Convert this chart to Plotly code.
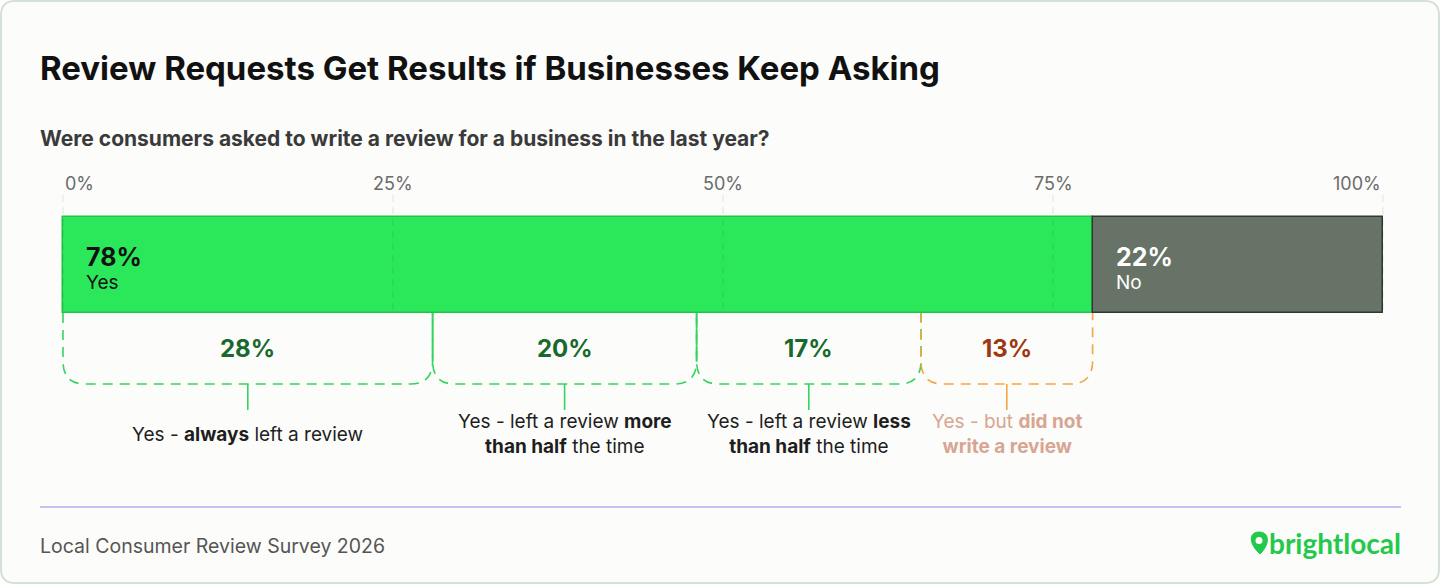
import plotly.graph_objects as go

# ---------------- data ----------------
categories = ["Yes", "No"]
shares = [78, 22]
breakdown_values = [28, 20, 17, 13]
breakdown_labels = [
    "Yes - <b>always</b> left a review",
    "Yes - left a review <b>more</b><br><b>than half</b> the time",
    "Yes - left a review <b>less</b><br><b>than half</b> the time",
    "Yes - but <b>did not</b><br><b>write a review</b>",
]
tick_values = [0, 25, 50, 75, 100]
tick_labels = ["0%", "25%", "50%", "75%", "100%"]

title = "Review Requests Get Results if Businesses Keep Asking"
subtitle = "Were consumers asked to write a review for a business in the last year?"
source = "Local Consumer Review Survey 2026"
brand = "brightlocal"

# ---------------- style ----------------
W, H = 1440, 584
X0_PX, X100_PX = 63, 1383
PPU = (X100_PX - X0_PX) / 100.0


def ux(px):
    return (px - X0_PX) / PPU


FONT = "Inter"
bar_colors = ["#2be85b", "#667366"]
bar_line_colors = ["#20c44b", "#2e3a30"]
bar_text_colors = ["#111111", "#ffffff"]
bracket_colors = ["#35d461", "#35d461", "#35d461", "#f5a640"]
pct_colors = ["#17692d", "#17692d", "#17692d", "#9c3812"]
label_colors = ["#1e1e1e", "#1e1e1e", "#1e1e1e", "#d8a592"]
GREEN_BRAND = "#22c94b"

BAR_Y, BAR_H = 265, 96
BAR_BOTTOM = BAR_Y + BAR_H / 2
GRID_TOP = 195
BRK_CORNER_Y, BRK_Y, STEM_Y = 361, 384, 410
R_PX = 22

fig = go.Figure()

# bars
base = 0
for cat, val, col, lc in zip(categories, shares, bar_colors, bar_line_colors):
    fig.add_trace(go.Bar(
        y=[BAR_Y], x=[val], base=[base], orientation="h", width=BAR_H,
        marker=dict(color=col, line=dict(color=lc, width=1.5)),
        hoverinfo="skip", showlegend=False, name=cat,
    ))
    base += val

shapes = []
annotations = []

# card background
r = 14
x1p, x2p, y1p, y2p = 1, W - 1, 1, H - 1
card = (f"M {ux(x1p + r)},{y1p} L {ux(x2p - r)},{y1p} Q {ux(x2p)},{y1p} {ux(x2p)},{y1p + r} "
        f"L {ux(x2p)},{y2p - r} Q {ux(x2p)},{y2p} {ux(x2p - r)},{y2p} "
        f"L {ux(x1p + r)},{y2p} Q {ux(x1p)},{y2p} {ux(x1p)},{y2p - r} "
        f"L {ux(x1p)},{y1p + r} Q {ux(x1p)},{y1p} {ux(x1p + r)},{y1p} Z")
shapes.append(dict(type="path", path=card, xref="x", yref="y", layer="below",
                   fillcolor="#fcfcfa", line=dict(color="#d6e1d6", width=2)))

# grid lines + tick labels
for v, t in zip(tick_values, tick_labels):
    shapes.append(dict(type="line", xref="x", yref="y", x0=v, x1=v, y0=GRID_TOP, y1=BAR_BOTTOM,
                       layer="above", line=dict(color="rgba(0,0,0,0.10)", width=1, dash="7px,5px")))
    anchor = "left" if v == min(tick_values) else ("right" if v == max(tick_values) else "center")
    annotations.append(dict(x=v, y=183, xref="x", yref="y", text=t, showarrow=False,
                            xanchor=anchor, yanchor="middle",
                            font=dict(family=FONT, size=18, color="#6b6b6b")))

# bar labels
base = 0
for cat, val, tc in zip(categories, shares, bar_text_colors):
    annotations.append(dict(x=base, y=257, xref="x", yref="y", text=f"<b>{val}%</b>", showarrow=False,
                            xanchor="left", yanchor="middle", xshift=21,
                            font=dict(family=FONT, size=25, color=tc)))
    annotations.append(dict(x=base, y=282, xref="x", yref="y", text=cat, showarrow=False,
                            xanchor="left", yanchor="middle", xshift=21,
                            font=dict(family=FONT, size=19, color=tc)))
    base += val

# brackets
rx = R_PX / PPU
start = 0
prev_col = None
for i, (val, lab) in enumerate(zip(breakdown_values, breakdown_labels)):
    a, b = start, start + val
    col = bracket_colors[i]
    path = (f"M {a},{BAR_BOTTOM} L {a},{BRK_CORNER_Y} Q {a},{BRK_Y} {a + rx},{BRK_Y} "
            f"L {b - rx},{BRK_Y} Q {b},{BRK_Y} {b},{BRK_CORNER_Y} L {b},{BAR_BOTTOM}")
    shapes.append(dict(type="path", path=path, xref="x", yref="y",
                       line=dict(color=col, width=1.6, dash="10px,7px")))
    if prev_col == col and i < 3:
        shapes.append(dict(type="line", xref="x", yref="y", x0=a, x1=a, y0=BAR_BOTTOM,
                           y1=BRK_CORNER_Y, line=dict(color=col, width=1.6)))
    mid = (a + b) / 2
    shapes.append(dict(type="line", xref="x", yref="y", x0=mid, x1=mid, y0=BRK_Y, y1=STEM_Y,
                       line=dict(color=col, width=1.6)))
    annotations.append(dict(x=mid, y=348, xref="x", yref="y", text=f"<b>{val}%</b>", showarrow=False,
                            xanchor="center", yanchor="middle",
                            font=dict(family=FONT, size=24, color=pct_colors[i])))
    annotations.append(dict(x=mid, y=434, xref="x", yref="y", text=lab, showarrow=False,
                            xanchor="center", yanchor="middle", align="center",
                            font=dict(family=FONT, size=19, color=label_colors[i])))
    prev_col = col
    start = b

# title & subtitle
annotations.append(dict(x=ux(38), y=68, xref="x", yref="y", text=f"<b>{title}</b>", showarrow=False,
                        xanchor="left", yanchor="middle",
                        font=dict(family=FONT, size=33, color="#111111")))
annotations.append(dict(x=ux(38), y=138, xref="x", yref="y", text=f"<b>{subtitle}</b>", showarrow=False,
                        xanchor="left", yanchor="middle",
                        font=dict(family=FONT, size=21, color="#3a3a3a")))

# footer
shapes.append(dict(type="line", xref="x", yref="y", x0=ux(40), x1=ux(1401), y0=507, y1=507,
                   line=dict(color="#c7c2ef", width=2)))
annotations.append(dict(x=ux(38), y=546, xref="x", yref="y", text=source, showarrow=False,
                        xanchor="left", yanchor="middle",
                        font=dict(family=FONT, size=19.5, color="#555555")))
annotations.append(dict(x=ux(1403), y=543, xref="x", yref="y", text=f"<b>{brand}</b>", showarrow=False,
                        xanchor="right", yanchor="middle",
                        font=dict(family="Lato", size=28, color=GREEN_BRAND)))
# pin icon
pin = (f"M {ux(1260)},{554} C {ux(1248)},{543} {ux(1249)},{532} {ux(1259)},{532} "
       f"C {ux(1269)},{532} {ux(1271)},{543} {ux(1260)},{554} Z")
shapes.append(dict(type="path", path=pin, xref="x", yref="y", fillcolor=GREEN_BRAND,
                   line=dict(color=GREEN_BRAND, width=1)))
shapes.append(dict(type="circle", xref="x", yref="y", x0=ux(1255.5), x1=ux(1262.5), y0=537, y1=544,
                   fillcolor="#fcfcfa", line=dict(width=0)))

fig.update_layout(
    width=W, height=H,
    margin=dict(l=0, r=0, t=0, b=0),
    paper_bgcolor="#ffffff", plot_bgcolor="rgba(0,0,0,0)",
    xaxis=dict(range=[ux(0), ux(W)], visible=False, fixedrange=True),
    yaxis=dict(range=[H, 0], visible=False, fixedrange=True),
    barmode="overlay", bargap=0,
    shapes=shapes, annotations=annotations,
    showlegend=False,
)

fig.write_html("out.html", config={"displayModeBar": False},
               post_script="document.body.style.margin='0';document.body.style.overflow='hidden';")
